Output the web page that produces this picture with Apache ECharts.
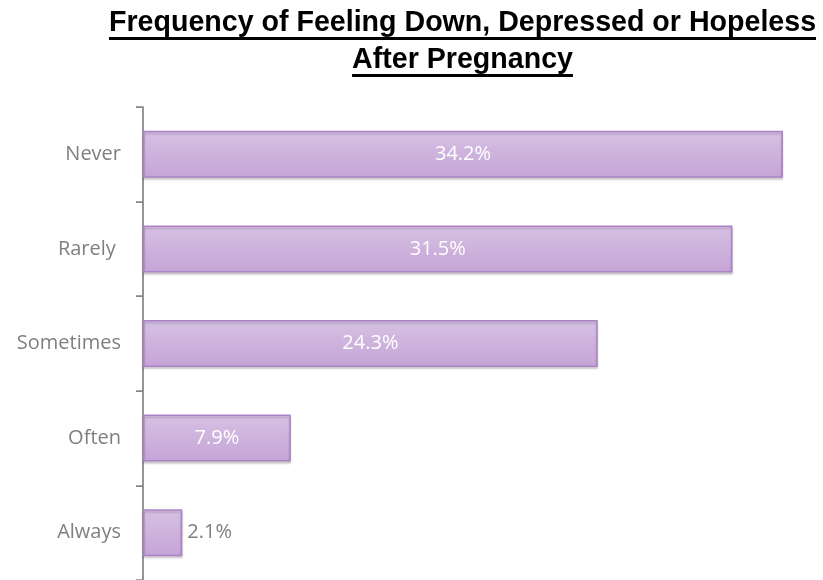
<!DOCTYPE html>
<html>
<head>
<meta charset="utf-8">
<script src="https://cdn.jsdelivr.net/npm/echarts@6/dist/echarts.min.js"></script>
<style>
html,body{margin:0;padding:0;background:#fff;}
#chart{width:823px;height:580px;}
</style>
</head>
<body>
<div id="chart"></div>
<script>
const categories = ["Never", "Rarely ", "Sometimes", "Often", "Always"];
const values = [34.2, 31.5, 24.3, 7.9, 2.1];
const titleLines = ["Frequency of Feeling Down, Depressed or Hopeless", "After Pregnancy"];

const chart = echarts.init(document.getElementById('chart'));

const titleFontSize = 28.6;
const titleFamily = 'Liberation Sans';
const cv = document.createElement('canvas').getContext('2d');
cv.font = 'bold ' + titleFontSize + 'px "' + titleFamily + '"';
const titleCenter = 462.5;
const titleMiddles = [23, 60];
const underlineYs = [37, 74];
const titleGraphics = [];
titleLines.forEach((t, i) => {
  const w = cv.measureText(t).width;
  titleGraphics.push({
    type: 'text',
    x: titleCenter,
    y: titleMiddles[i],
    silent: true,
    style: {
      text: t,
      fill: '#000',
      font: 'bold ' + titleFontSize + 'px "' + titleFamily + '"',
      align: 'center',
      verticalAlign: 'middle'
    }
  });
  titleGraphics.push({
    type: 'rect',
    silent: true,
    shape: { x: titleCenter - w / 2, y: underlineYs[i], width: w, height: 3 },
    style: { fill: '#000' }
  });
});

const barData = values.map(v => ({
  value: v,
  label: v < 5 ? { position: 'right', color: '#7f7f7f', distance: 5 } : {}
}));

chart.setOption({
  backgroundColor: '#fff',
  animation: false,
  graphic: titleGraphics,
  grid: { left: 143, top: 107, width: 673.7, height: 475 },
  xAxis: {
    type: 'value',
    min: 0,
    max: 36,
    show: false
  },
  yAxis: {
    type: 'category',
    data: categories,
    inverse: true,
    axisLine: { show: true, lineStyle: { color: '#868686', width: 1.75 } },
    axisTick: { show: true, length: 7, lineStyle: { color: '#868686', width: 1.75 } },
    axisLabel: {
      fontFamily: 'Open Sans',
      fontSize: 20,
      color: '#7f7f7f',
      margin: 22
    }
  },
  series: [{
    type: 'bar',
    data: barData,
    barWidth: 47,
    itemStyle: {
      color: new echarts.graphic.LinearGradient(0, 0, 0, 1, [
        { offset: 0, color: '#d6c1e3' },
        { offset: 1, color: '#c5a4d6' }
      ]),
      borderColor: '#ad82c9',
      borderWidth: 1.5,
      shadowColor: 'rgba(0,0,0,0.18)',
      shadowOffsetY: 2,
      shadowBlur: 2
    },
    label: {
      show: true,
      position: 'inside',
      color: '#ffffff',
      fontFamily: 'Open Sans',
      fontSize: 20,
      formatter: p => p.value.toFixed(1) + '%'
    }
  }]
});
</script>
</body>
</html>
